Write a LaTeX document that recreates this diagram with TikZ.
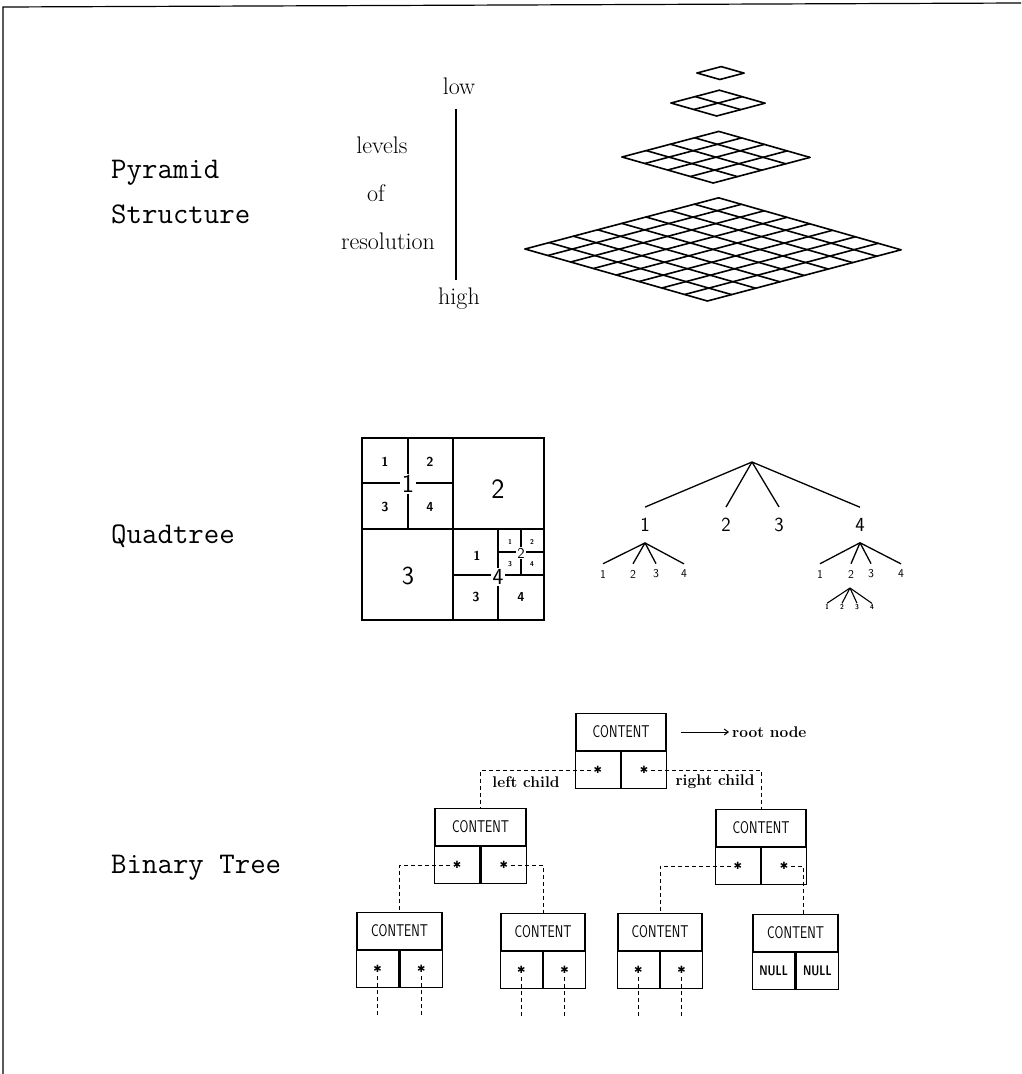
\documentclass[tikz,border=0pt]{standalone}
\usepackage{fontspec}
\usepackage{graphicx}
\usetikzlibrary{arrows.meta,calc}
\newfontfamily\djv{DejaVu Sans}
\newcommand{\cscale}[1]{\scalebox{0.75}[1]{#1}}
\begin{document}
\begin{tikzpicture}[x=1pt,y=-1pt,
  ttl/.style={font=\ttfamily\fontsize{30}{30}\selectfont, anchor=base west, inner sep=0pt},
  rmlab/.style={font=\fontsize{24}{24}\selectfont, inner sep=0pt},
  ann/.style={font=\bfseries\fontsize{15.5}{15.5}\selectfont, inner sep=1pt},
  pyr/.style={line width=1.6pt, line cap=round, line join=round},
  quad/.style={line width=1.3pt},
  qlab/.style={font=\sffamily\fontsize{#1}{#1}\selectfont, fill=white, inner sep=1.5pt},
  tlab/.style={font=\sffamily\fontsize{#1}{#1}\selectfont, inner sep=0pt},
  slab/.style={font=\sffamily\bfseries\fontsize{#1}{#1}\selectfont, inner sep=0pt},
  tline/.style={line width=1.3pt},
  content/.style={draw, line width=1.2pt, minimum width=#1, minimum height=37pt, inner sep=0pt,
     font=\sffamily\fontsize{17}{17}\selectfont},
  cell/.style={draw, line width=1.2pt, minimum width=#1, minimum height=37pt, inner sep=0pt,
     font=\djv\bfseries\fontsize{10}{10}\selectfont},
  nullcell/.style={draw, line width=1.2pt, minimum width=#1, minimum height=37pt, inner sep=0pt,
     font=\sffamily\bfseries\fontsize{14}{14}\selectfont},
  dl/.style={dashed, dash pattern=on 4pt off 3pt, line width=1pt}
]
\useasboundingbox (0,0) rectangle (1021,1074);
% page border
\draw[line width=1.2pt] (3,1074) -- (3,7) -- (1021,3);

% ---------------- Pyramid ----------------
\node[ttl] (pyt1) at (111,178) {Pyramid};
\node[ttl] (pyt2) at (111,223) {Structure};
\node[rmlab] (low) at (459,86) {low};
\node[rmlab] (high) at (459,299) {high};
\node[rmlab] (lev) at (382,145) {levels};
\node[rmlab] (of) at (376,193) {of};
\node[rmlab] (res) at (388,241) {resolution};
\draw[line width=1.3pt] ([xshift=-3pt,yshift=-14pt]low.south) -- ([xshift=-3pt,yshift=8pt]high.north);

\foreach \n/\lx/\ly in {1/697/73, 2/671/103, 4/622/157, 8/525/249}{
  \begin{scope}[shift={(\lx pt,-\ly pt)}, x={(24.2pt,6.4pt)}, y={(22.8pt,-6.5pt)}]
    \foreach \i in {0,...,\n}{
      \draw[pyr] (\i,0) -- (\i,\n);
      \draw[pyr] (0,\i) -- (\n,\i);
    }
  \end{scope}
}

% ---------------- Quadtree ----------------
\node[ttl] (qtt) at (111,543) {Quadtree};
% square
\draw[quad] (362,438) rectangle (544,620);
\draw[quad] (453,438) -- (453,620);
\draw[quad] (362,529) -- (544,529);
% quadrant 1 subdivided
\draw[quad] (408,438) -- (408,529);
\draw[quad] (362,483) -- (453,483);
\node[qlab=26] (qa1) at (408,484) {1};
\node[slab=13] at (385,462) {1};
\node[slab=13] at (430,462) {2};
\node[slab=13] at (385,507) {3};
\node[slab=13] at (430,507) {4};
% quadrant 2,3
\node[tlab=28] at (498,489) {2};
\node[tlab=26] at (408,576) {3};
% quadrant 4 subdivided
\draw[quad] (498,529) -- (498,620);
\draw[quad] (453,575) -- (544,575);
\node[slab=13] at (477,556) {1};
\node[slab=13] at (476,597) {3};
\node[slab=13] at (521,597) {4};
% sub-quadrant 2 of 4
\draw[quad] (521,529) -- (521,575);
\draw[quad] (498,552) -- (544,552);
\node[qlab=15, inner sep=1pt] at (521,553) {2};
\node[slab=7] at (510,542) {1};
\node[slab=7] at (532,542) {2};
\node[slab=7] at (510,564) {3};
\node[slab=7] at (532,564) {4};
\node[qlab=23] at (498,577) {4};

% tree
\coordinate (qr) at (752,462);
\node[tlab=20, inner sep=11pt] (q1) at (645,525) {1};
\node[tlab=20, inner sep=11pt] (q2) at (726,525) {2};
\node[tlab=20, inner sep=11pt] (q3) at (779,525) {3};
\node[tlab=20, inner sep=11pt] (q4) at (860,525) {4};
\foreach \k in {1,2,3,4} \draw[tline] (qr) -- (q\k.north);
\foreach \k/\x in {1/603,2/633,3/656,4/684}{
  \node[tlab=12, inner sep=6pt] (q1\k) at (\x,574) {\k};
  \draw[tline] (q1.south) -- (q1\k.north);
}
\foreach \k/\x in {1/820,2/851,3/871,4/901}{
  \node[tlab=12, inner sep=6pt] (q4\k) at (\x,574) {\k};
  \draw[tline] (q4.south) -- (q4\k.north);
}
\coordinate (q42a) at (850,588);
\foreach \k/\x in {1/827,2/842,3/857,4/872}{
  \node[slab=7, inner sep=1pt] (q42\k) at (\x,607) {\k};
  \draw[line width=1.1pt] (q42a) -- (q42\k.north);
}

% ---------------- Binary tree ----------------
\node[ttl] (btt) at (111,873) {Binary Tree};

% root
\node[content=90pt] (r) at (621,732) {\cscale{CONTENT}};
\node[cell=45pt, anchor=north east] (rl) at (r.south) {✱};
\node[cell=45pt, anchor=north west] (rr) at (r.south) {✱};
\node[ann, anchor=west] (rn) at (731,732) {root node};
\draw[line width=1pt, shorten >=2pt, -{Straight Barb[length=4pt,width=6pt]}] ([xshift=14pt]r.east) -- (rn.west);

% level 2
\node[content=91pt] (L) at (480.5,827) {\cscale{CONTENT}};
\node[cell=45.5pt, anchor=north east] (Ll) at (L.south) {✱};
\node[cell=45.5pt, anchor=north west] (Lr) at (L.south) {✱};
\node[content=90pt] (R) at (761,828) {\cscale{CONTENT}};
\node[cell=45pt, anchor=north east] (Rl) at (R.south) {✱};
\node[cell=45pt, anchor=north west] (Rr) at (R.south) {✱};

\draw[dl] ([xshift=-7pt]rl.center) -| (L.north);
\draw[dl] ([xshift=7pt]rr.center) -| (R.north);
\node[ann] (lc) at (526,782) {left child};
\node[ann] (rc) at (715,782) {right child};

% level 3
\node[content=85pt] (A) at (399.5,931) {\cscale{CONTENT}};
\node[cell=42.5pt, anchor=north east] (Al) at (A.south) {✱};
\node[cell=42.5pt, anchor=north west] (Ar) at (A.south) {✱};
\node[content=84pt] (B) at (543,932) {\cscale{CONTENT}};
\node[cell=42pt, anchor=north east] (Bl) at (B.south) {✱};
\node[cell=42pt, anchor=north west] (Br) at (B.south) {✱};
\node[content=84pt] (C) at (660,932) {\cscale{CONTENT}};
\node[cell=42pt, anchor=north east] (Cl) at (C.south) {✱};
\node[cell=42pt, anchor=north west] (Cr) at (C.south) {✱};
\node[content=85pt] (D) at (795.5,933) {\cscale{CONTENT}};
\node[nullcell=42.5pt, anchor=north east] (Dl) at (D.south) {\cscale{NULL}};
\node[nullcell=42.5pt, anchor=north west] (Dr) at (D.south) {\cscale{NULL}};

\draw[dl] ([xshift=-7pt]Ll.center) -| (A.north);
\draw[dl] ([xshift=7pt]Lr.center) -| (B.north);
\draw[dl] ([xshift=-7pt]Rl.center) -| (C.north);
\draw[dl] ([xshift=7pt]Rr.center) -| ([xshift=8pt]D.north);

% dangling pointers
\foreach \c in {Al,Ar,Bl,Br,Cl,Cr}{
  \coordinate (\c e) at ($(\c.center)+(0,47)$);
}
\foreach \c in {Al,Ar,Bl,Br,Cl,Cr}{
  \draw[dl] ([yshift=-7pt]\c.center) -- (\c e);
}
\end{tikzpicture}
\end{document}
